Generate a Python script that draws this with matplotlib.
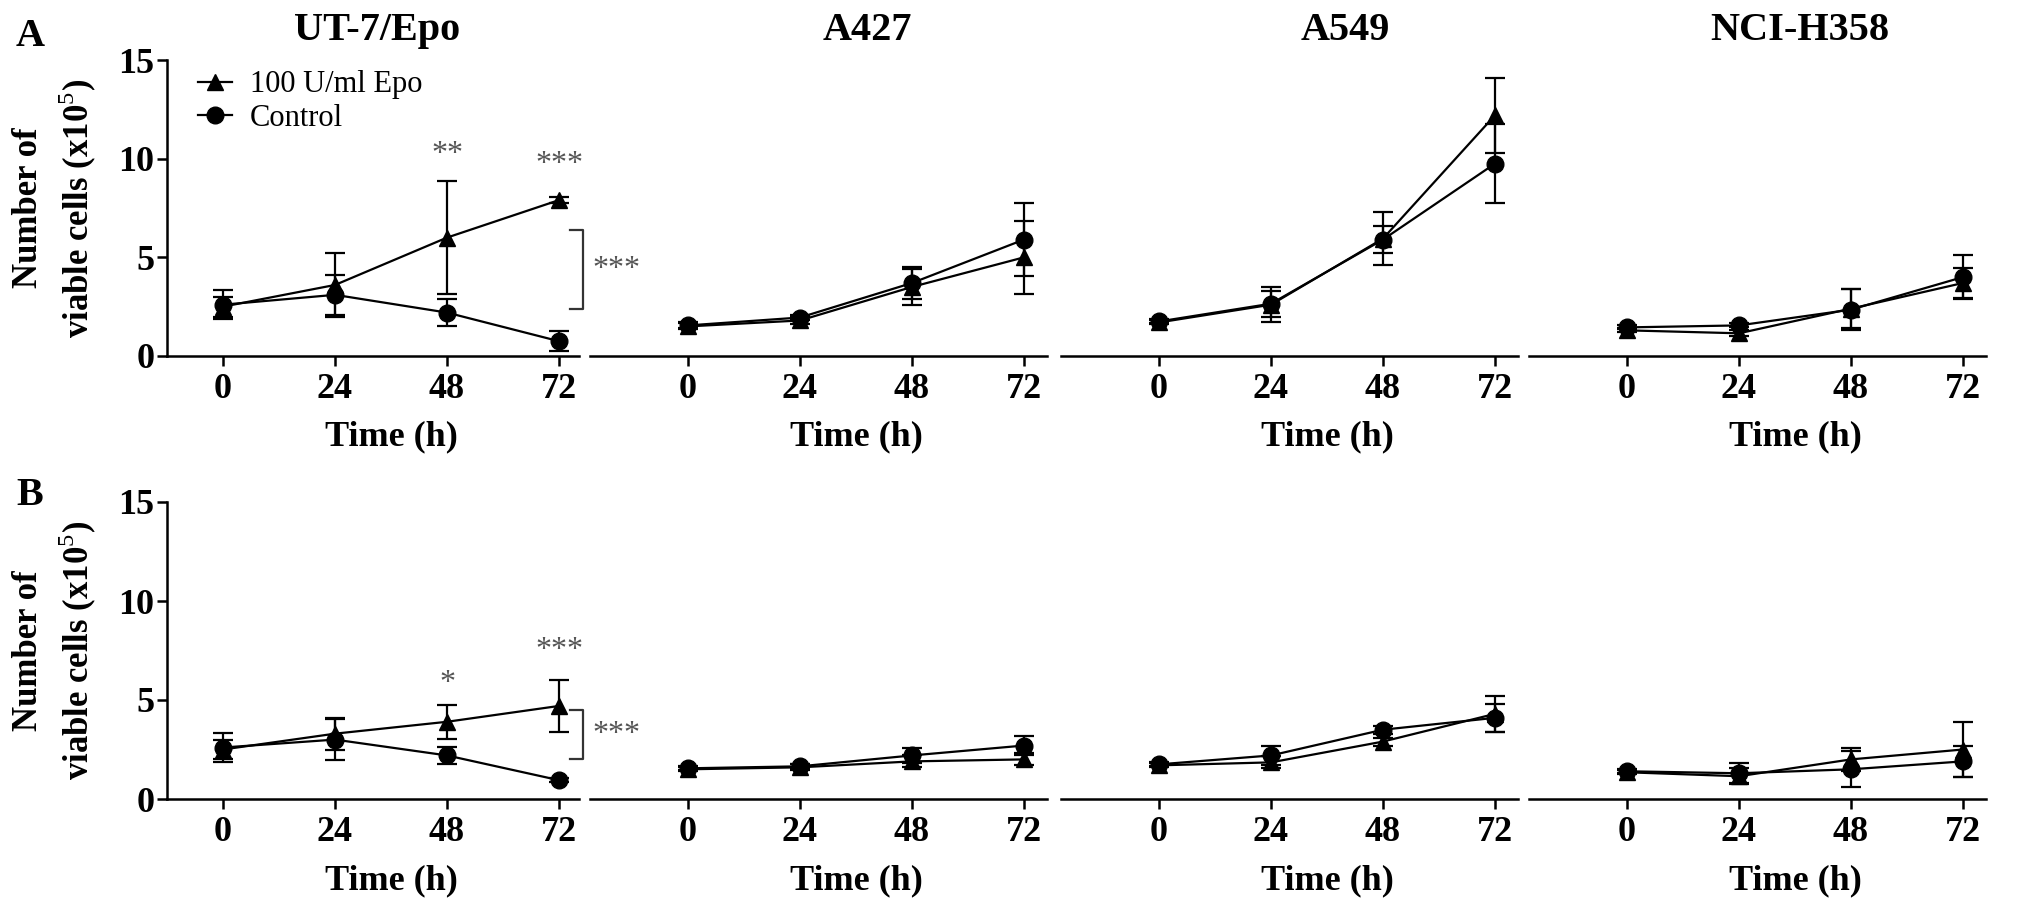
import numpy as np
from matplotlib import pyplot as plt
from matplotlib import transforms

plt.rcParams['font.family'] = ['Liberation Serif', 'DejaVu Serif']
plt.rcParams['mathtext.fontset'] = 'custom'
plt.rcParams['mathtext.rm'] = 'Liberation Serif'
plt.rcParams['mathtext.bf'] = 'Liberation Serif:bold'

times = [0, 24, 48, 72]
cell_lines = ['UT-7/Epo', 'A427', 'A549', 'NCI-H358']
series_labels = ['100 U/ml Epo', 'Control']

# row A (x10^5 cells)
ut7_a_epo = [2.5, 3.6, 6.0, 7.9]
ut7_a_epo_err = [0.5, 1.6, 2.85, 0.15]
ut7_a_ctrl = [2.6, 3.1, 2.2, 0.75]
ut7_a_ctrl_err = [0.75, 1.0, 0.7, 0.5]
a427_a_epo = [1.5, 1.8, 3.5, 5.0]
a427_a_epo_err = [0.15, 0.2, 0.9, 1.85]
a427_a_ctrl = [1.55, 1.95, 3.7, 5.9]
a427_a_ctrl_err = [0.15, 0.15, 0.8, 1.85]
a549_a_epo = [1.7, 2.6, 5.95, 12.2]
a549_a_epo_err = [0.1, 0.9, 1.35, 1.9]
a549_a_ctrl = [1.75, 2.65, 5.9, 9.75]
a549_a_ctrl_err = [0.1, 0.65, 0.7, 2.0]
nci_a_epo = [1.3, 1.15, 2.4, 3.7]
nci_a_epo_err = [0.1, 0.15, 1.0, 0.75]
nci_a_ctrl = [1.45, 1.55, 2.35, 4.0]
nci_a_ctrl_err = [0.1, 0.1, 1.05, 1.1]

# row B
ut7_b_epo = [2.5, 3.3, 3.9, 4.7]
ut7_b_epo_err = [0.5, 0.8, 0.85, 1.3]
ut7_b_ctrl = [2.6, 3.0, 2.2, 0.95]
ut7_b_ctrl_err = [0.75, 1.05, 0.45, 0.1]
a427_b_epo = [1.5, 1.6, 1.9, 2.0]
a427_b_epo_err = [0.1, 0.15, 0.3, 0.3]
a427_b_ctrl = [1.55, 1.65, 2.2, 2.7]
a427_b_ctrl_err = [0.1, 0.1, 0.4, 0.5]
a549_b_epo = [1.7, 1.85, 2.9, 4.3]
a549_b_epo_err = [0.1, 0.3, 0.2, 0.9]
a549_b_ctrl = [1.75, 2.2, 3.5, 4.1]
a549_b_ctrl_err = [0.1, 0.5, 0.2, 0.7]
nci_b_epo = [1.35, 1.15, 2.0, 2.5]
nci_b_epo_err = [0.1, 0.4, 0.6, 1.4]
nci_b_ctrl = [1.4, 1.3, 1.5, 1.9]
nci_b_ctrl_err = [0.1, 0.5, 0.9, 0.8]

# significance marks on UT-7/Epo panels: (time, y, text)
stars_a = [(48, 10.2, '**'), (72, 9.7, '***')]
stars_b = [(48, 5.85, '*'), (72, 7.5, '***')]
bracket_a = (6.4, 2.4)
bracket_b = (4.5, 2.0)

W, H = 2031, 915
HOUR_PX = 112 / 24
ZERO_PX = [223, 688, 1159, 1627]
XLIMS = [(-12, 76.3), (-21, 77), (-21, 77), (-21, 77)]
ROW_Y = [(356, 60), (799, 502)]  # pixel y of 0 and 15
TITLE_X = [33, 38.5, 40, 37]
STAR_GRAY = '#555555'


def draw_series(ax, y, err, marker):
    art = ax.errorbar(times, y, yerr=err, color='black', marker=marker, ms=12,
                      lw=1.6, elinewidth=1.6, capsize=7, capthick=1.6)
    for a in art.get_children():
        a.set_clip_on(False)
    return art[0]


def draw_bracket(ax, y_top, y_bot, y_text):
    x0, x1 = 74.4, 77.1
    ax.plot([x0, x1, x1, x0], [y_top, y_top, y_bot, y_bot], color='#333333',
            lw=1.6, clip_on=False)
    ax.text(84.4, y_text, '***', color=STAR_GRAY, fontsize=23, ha='center',
            va='center', clip_on=False)


def make_axes(fig, row, col):
    zero_y, top_y = ROW_Y[row]
    xmin, xmax = XLIMS[col]
    left = ZERO_PX[col] + xmin * HOUR_PX
    width = (xmax - xmin) * HOUR_PX
    ax = fig.add_axes([left / W, 1 - zero_y / H, width / W, (zero_y - top_y) / H])
    ax.patch.set_visible(False)
    ax.set_xlim(xmin, xmax)
    ax.set_ylim(0, 15)
    ax.set_xticks(times)
    ax.set_xticklabels([str(t) for t in times], fontweight='bold')
    ax.set_yticks([0, 5, 10, 15])
    ax.set_yticklabels(['0', '5', '10', '15'], fontweight='bold')
    ax.tick_params(labelsize=26, width=1.8, length=7, pad=2)
    ax.tick_params(axis='x', pad=5)
    for s in ['top', 'right']:
        ax.spines[s].set_visible(False)
    ax.spines['bottom'].set_linewidth(1.8)
    ax.spines['left'].set_linewidth(1.8)
    if col > 0:
        ax.spines['left'].set_visible(False)
        ax.tick_params(axis='y', left=False, labelleft=False)
    else:
        ax.set_ylabel('Number of\nviable cells (x10$^5$)', fontsize=25,
                      fontweight='bold', labelpad=14, linespacing=1.35)
    trans = transforms.blended_transform_factory(ax.transData, ax.transAxes)
    ax.text(36, -0.274, 'Time (h)', transform=trans, fontsize=26,
            fontweight='bold', ha='center', va='center')
    if row == 0:
        ax.text(TITLE_X[col], 1.10, cell_lines[col], transform=trans,
                fontsize=29, fontweight='bold', ha='center', va='center')
    return ax


def main():
    fig = plt.figure(figsize=(W / 100, H / 100), dpi=100)

    rows = [
        [(ut7_a_epo, ut7_a_epo_err, ut7_a_ctrl, ut7_a_ctrl_err),
         (a427_a_epo, a427_a_epo_err, a427_a_ctrl, a427_a_ctrl_err),
         (a549_a_epo, a549_a_epo_err, a549_a_ctrl, a549_a_ctrl_err),
         (nci_a_epo, nci_a_epo_err, nci_a_ctrl, nci_a_ctrl_err)],
        [(ut7_b_epo, ut7_b_epo_err, ut7_b_ctrl, ut7_b_ctrl_err),
         (a427_b_epo, a427_b_epo_err, a427_b_ctrl, a427_b_ctrl_err),
         (a549_b_epo, a549_b_epo_err, a549_b_ctrl, a549_b_ctrl_err),
         (nci_b_epo, nci_b_epo_err, nci_b_ctrl, nci_b_ctrl_err)],
    ]

    for r, row in enumerate(rows):
        for c, (epo, epo_err, ctrl, ctrl_err) in enumerate(row):
            ax = make_axes(fig, r, c)
            l_epo = draw_series(ax, epo, epo_err, '^')
            l_ctrl = draw_series(ax, ctrl, ctrl_err, 'o')
            if c == 0:
                stars = stars_a if r == 0 else stars_b
                for t, y, s in stars:
                    ax.text(t, y, s, color=STAR_GRAY, fontsize=23,
                            ha='center', va='center')
                br = bracket_a if r == 0 else bracket_b
                draw_bracket(ax, br[0], br[1], (br[0] + br[1]) / 2)
            if r == 0 and c == 0:
                ax.legend([l_epo, l_ctrl], series_labels, loc='upper left',
                          bbox_to_anchor=(0.075, 0.965),
                          frameon=False, fontsize=22, handlelength=1.1,
                          handletextpad=0.6, labelspacing=0.15,
                          borderpad=0, borderaxespad=0)

    fig.text(30 / W, 1 - 37 / H, 'A', fontsize=29, fontweight='bold',
             ha='center', va='center')
    fig.text(30 / W, 1 - 495 / H, 'B', fontsize=29, fontweight='bold',
             ha='center', va='center')

    fig.savefig('out.png', dpi=100)


if __name__ == '__main__':
    main()
